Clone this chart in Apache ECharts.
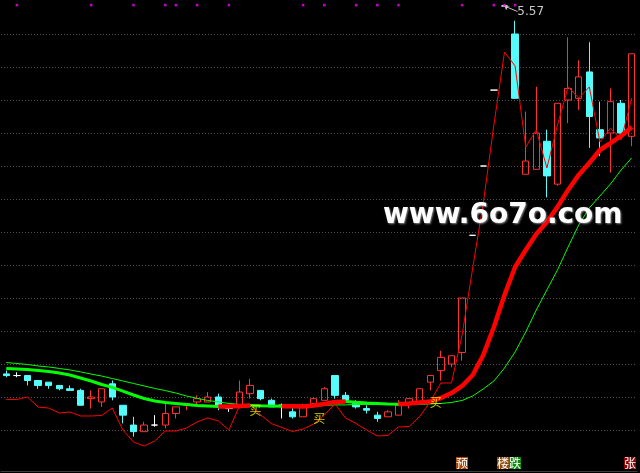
<!DOCTYPE html>
<html><head><meta charset="utf-8">
<script src="https://cdn.jsdelivr.net/npm/echarts@6/dist/echarts.min.js"></script>
<style>html,body{margin:0;padding:0;background:#000;}#c{width:640px;height:473px;}</style>
</head><body><div id="c"></div>
<script>
// ---- data ----
const days = ['1','2','3','4','5','6','7','8','9','10','11','12','13','14','15','16','17','18','19','20',
 '21','22','23','24','25','26','27','28','29','30','31','32','33','34','35','36','37','38','39','40',
 '41','42','43','44','45','46','47','48','49','50','51','52','53','54','55','56','57','58','59','60'];
const openP  = [3.34,3.33,3.33,3.30,3.29,3.27,3.25,3.24,3.19,3.17,3.28,3.15,3.03,2.99,3.03,3.03,3.10,3.15,3.17,3.17,
                3.20,3.13,3.14,3.22,3.24,3.18,3.15,3.11,3.08,3.16,3.18,3.33,3.21,3.16,3.13,3.09,3.08,3.09,3.16,3.17,
                3.29,3.36,3.40,3.47,4.18,4.60,5.06,5.57,5.40,4.55,4.58,4.75,4.49,5.00,5.01,5.17,4.82,4.80,4.98,4.78];
const closeP = [3.33,3.33,3.30,3.27,3.27,3.25,3.24,3.15,3.20,3.25,3.20,3.09,2.99,3.03,3.03,3.10,3.14,3.16,3.19,3.20,
                3.15,3.13,3.23,3.27,3.19,3.14,3.15,3.08,3.15,3.19,3.25,3.21,3.18,3.14,3.12,3.07,3.11,3.15,3.19,3.25,
                3.33,3.44,3.45,3.80,4.18,4.60,5.06,5.57,5.01,4.63,4.80,4.54,4.98,5.07,5.14,4.90,4.77,4.99,4.80,5.28];
const lowP   = [3.32,3.32,3.27,3.25,3.25,3.24,3.24,3.15,3.13,3.14,3.18,3.04,2.96,2.99,3.02,3.01,3.07,3.12,3.14,3.17,
                3.12,3.11,3.14,3.19,3.18,3.14,3.07,3.07,3.08,3.16,3.18,3.19,3.18,3.13,3.10,3.05,3.08,3.09,3.13,3.17,
                3.24,3.30,3.38,3.42,4.18,4.60,5.06,5.57,5.01,4.55,4.58,4.41,4.48,4.86,4.94,4.71,4.66,4.56,4.78,4.72];
const highP  = [3.36,3.35,3.33,3.30,3.29,3.27,3.27,3.25,3.24,3.25,3.30,3.15,3.08,3.05,3.09,3.16,3.14,3.16,3.21,3.23,
                3.22,3.15,3.30,3.31,3.24,3.19,3.16,3.14,3.16,3.20,3.26,3.33,3.23,3.18,3.15,3.11,3.12,3.18,3.19,3.25,
                3.33,3.48,3.45,3.80,4.18,4.60,5.06,5.57,5.48,4.93,5.08,4.82,4.98,5.38,5.24,5.35,4.99,5.07,5.00,5.28];
// thick moving average (red when rising, green when falling)
const maFast = [3.373,3.370,3.367,3.361,3.355,3.346,3.333,3.315,3.297,3.276,3.258,3.236,3.212,3.191,3.176,3.167,3.161,3.155,3.149,3.146,
                3.142,3.142,3.146,3.149,3.147,3.146,3.144,3.144,3.143,3.149,3.158,3.170,3.173,3.168,3.164,3.161,3.158,3.156,3.161,3.167,
                3.173,3.194,3.224,3.267,3.333,3.455,3.624,3.818,3.988,4.091,4.188,4.261,4.352,4.455,4.546,4.618,4.697,4.739,4.782,4.836];
// thin green slow average
const maSlow = [3.409,3.403,3.397,3.388,3.382,3.373,3.364,3.352,3.339,3.327,3.312,3.297,3.282,3.267,3.252,3.239,3.224,3.206,3.192,3.179,
                3.170,3.161,3.155,3.152,3.149,3.147,3.146,3.146,3.146,3.146,3.149,3.152,3.152,3.155,3.155,3.155,3.155,3.155,3.155,3.155,
                3.158,3.161,3.167,3.179,3.206,3.249,3.297,3.376,3.473,3.594,3.727,3.849,3.970,4.109,4.242,4.346,4.418,4.491,4.576,4.649];
// thin red indicator line
const redLine = [3.185,3.185,3.200,3.139,3.133,3.103,3.109,3.085,3.085,3.088,3.133,3.000,2.927,2.903,2.933,2.994,2.994,3.012,3.049,3.073,
                 3.055,3.000,3.146,3.152,3.091,3.039,3.015,2.991,3.006,3.036,3.091,3.158,3.073,3.039,3.000,2.964,2.967,3.018,3.021,3.082,
                 3.173,3.285,3.285,3.576,3.982,4.376,4.849,5.291,5.206,4.715,4.818,4.588,4.849,5.079,5.012,5.079,4.746,4.830,4.758,5.012];
// magenta signal dots on the top row
const sigIdx = [1,8,12,15,16,18,21,28,30,33,35,37,43,46,47,48];
const sigLevel = 5.575;
// yellow "买" marks: day index and price level of the text
const buyIdx = [23,29,40];
const buyLvl = [3.118,3.073,3.170];
const buyText = '买';
const watermark = 'www.6o7o.com';

// ---- derived ----
const kData = openP.map((o,i)=>[o, closeP[i], lowP[i], highP[i]]);
const upSeg = maFast.map(()=>null), dnSeg = maFast.map(()=>null);
for (let i=1;i<maFast.length;i++){
  const tgt = maFast[i] >= maFast[i-1] ? upSeg : dnSeg;
  tgt[i-1] = maFast[i-1]; tgt[i] = maFast[i];
}

const chart = echarts.init(document.getElementById('c'), null, {renderer:'canvas'});
chart.setOption({
  backgroundColor:'#000',
  animation:false,
  grid:{left:1, right:3, top:1, bottom:10},
  xAxis:{type:'category', data:days, boundaryGap:true, offset:8,
    axisLine:{show:true, lineStyle:{color:'#3c3c3c', width:1}},
    axisTick:{show:false}, axisLabel:{show:false}, splitLine:{show:false}},
  yAxis:{type:'value', min:2.8, max:5.6, interval:0.2, scale:true,
    axisLine:{show:false}, axisTick:{show:false}, axisLabel:{show:false},
    splitLine:{show:true, showMinLine:false, showMaxLine:false, lineStyle:{color:'#505050', width:1, type:[1,2]}}},
  series:[
    {type:'candlestick', data:kData, barWidth:7,
     itemStyle:{color:'transparent', color0:'#54fcfc', borderColor:'#ff3232', borderColor0:'#54fcfc', borderColorDoji:'#ffffff', borderWidth:1},
     markPoint:{
       data:[{type:'max', valueDim:'highest'}],
       symbol:'path://M0,0L12,5M0,0L4,0M0,0L1,3',
       symbolSize:[12,5], symbolOffset:[7,3],
       itemStyle:{color:'none', borderColor:'#c8c8c8', borderWidth:1},
       label:{show:true, position:'right', distance:0, offset:[-4,3], color:'#c8c8c8', fontSize:12,
              fontFamily:'DejaVu Sans', formatter:p=>Number(p.value).toFixed(2)}
     }},
    {type:'line', data:maSlow, symbol:'none', lineStyle:{color:'#00ff00', width:1}, z:3},
    {type:'line', data:dnSeg, symbol:'none', connectNulls:false, lineStyle:{color:'#00ff00', width:3}, z:4},
    {type:'line', data:upSeg, symbol:'none', connectNulls:false, lineStyle:{color:'#ff0000', width:4.5}, z:4},
    {type:'line', data:redLine, symbol:'none', lineStyle:{color:'#ff0000', width:1}, z:5},
    {type:'scatter', data:sigIdx.map(i=>[i, sigLevel]), symbol:'rect', symbolSize:2.5, itemStyle:{color:'#ff00ff'}, z:6},
    {type:'scatter', data:buyIdx.map((i,k)=>[i, buyLvl[k]]), symbolSize:1, itemStyle:{color:'transparent'}, z:7,
     label:{show:true, position:'inside', offset:[5.5,0], formatter:buyText, color:'#ffff00', fontSize:12,
            fontFamily:'"Noto Sans CJK SC"'}}
  ],
  graphic:[
    {type:'text', x:383, y:216, z:10, style:{text:watermark, font:'bold 28px "DejaVu Sans"', fill:'#ffffff',
      verticalAlign:'middle', textShadowColor:'rgba(150,150,150,0.9)', textShadowBlur:2, textShadowOffsetX:1, textShadowOffsetY:1}},
    {type:'text', left:456, top:457, z:10, style:{text:'预', font:'12px "Noto Sans CJK SC"', fill:'#ffffff', backgroundColor:'#a8480c', padding:[0,0,0,0]}},
    {type:'text', left:497, top:457, z:10, style:{text:'楼', font:'12px "Noto Sans CJK SC"', fill:'#ffffff', backgroundColor:'#8c4a0c', padding:[0,0,0,0]}},
    {type:'text', left:509, top:457, z:10, style:{text:'跌', font:'12px "Noto Sans CJK SC"', fill:'#ffffff', backgroundColor:'#0a8a0a', padding:[0,0,0,0]}},
    {type:'text', left:624, top:457, z:10, style:{text:'张', font:'12px "Noto Sans CJK SC"', fill:'#ffffff', backgroundColor:'#8a0808', padding:[0,0,0,0]}}
  ]
});
</script></body></html>
